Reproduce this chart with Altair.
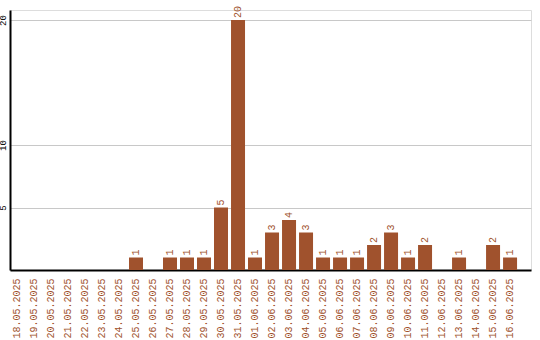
import altair as alt
import pandas as pd

dates = ["18.05.2025", "19.05.2025", "20.05.2025", "21.05.2025", "22.05.2025",
         "23.05.2025", "24.05.2025", "25.05.2025", "26.05.2025", "27.05.2025",
         "28.05.2025", "29.05.2025", "30.05.2025", "31.05.2025", "01.06.2025",
         "02.06.2025", "03.06.2025", "04.06.2025", "05.06.2025", "06.06.2025",
         "07.06.2025", "08.06.2025", "09.06.2025", "10.06.2025", "11.06.2025",
         "12.06.2025", "13.06.2025", "14.06.2025", "15.06.2025", "16.06.2025"]
counts = [0, 0, 0, 0, 0, 0, 0, 1, 0, 1,
          1, 1, 5, 20, 1, 3, 4, 3, 1, 1,
          1, 2, 3, 1, 2, 0, 1, 0, 2, 1]
y_ticks = [5, 10, 20]

df = pd.DataFrame({"date": dates, "count": counts})
df["label"] = [str(c) if c > 0 else "" for c in counts]

COLOR = "#A0522D"
FONT = "Liberation Mono"

x = alt.X("date:N", sort=dates,
          scale=alt.Scale(paddingInner=3/17, paddingOuter=0.41, align=0),
          axis=alt.Axis(title=None, labelAngle=270, labelAlign="right",
                        labelBaseline="middle", labelPadding=8, labelFontSize=10,
                        labelFont=FONT, labelColor=COLOR, ticks=False,
                        domainColor="black", domainWidth=2, grid=False,
                        labelOverlap=False))
y = alt.Y("count:Q", scale=alt.Scale(domain=[0, 20.8], nice=False, zero=True),
          axis=alt.Axis(title=None, values=y_ticks, labelAngle=270,
                        labelAlign="center", labelBaseline="bottom",
                        labelPadding=3, labelFontSize=9, labelFont=FONT,
                        labelColor="black", ticks=False, domainColor="black",
                        domainWidth=2, grid=True, gridColor="#c8c8c8"))

bars = alt.Chart(df).mark_bar(color=COLOR).encode(x=x, y=y)
text = alt.Chart(df).mark_text(angle=270, align="left", baseline="middle",
                               dx=2, fontSize=10, font=FONT, color=COLOR).encode(
    x=alt.X("date:N", sort=dates), y="count:Q", text="label:N")

chart = (bars + text).properties(
    width=521, height=260,
    autosize=alt.AutoSizeParams(type="none"),
    padding={"left": 10, "top": 10, "right": 9, "bottom": 70},
).configure_view(stroke=None).configure(background="white")

chart.save("out.html", embed_options={"renderer": "svg", "actions": False})
